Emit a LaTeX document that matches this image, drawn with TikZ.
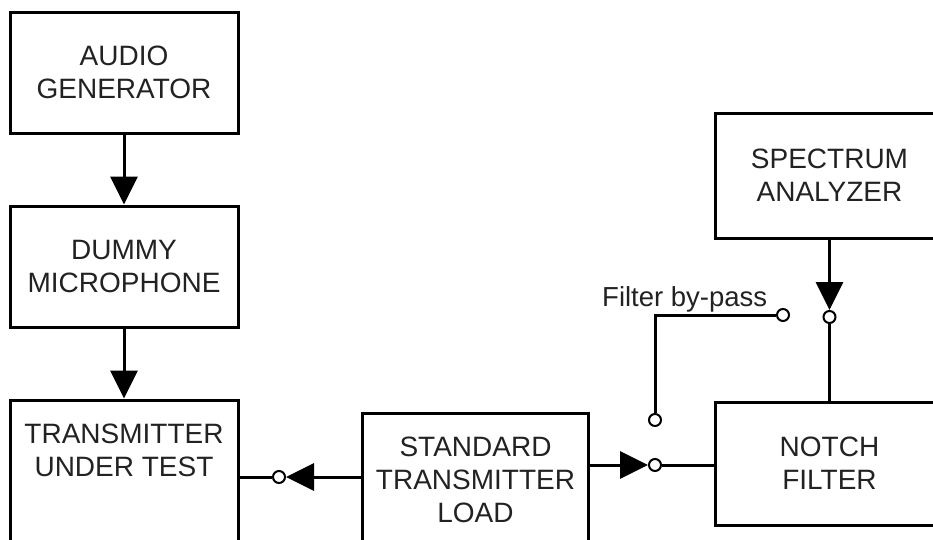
\documentclass[tikz,border=0pt]{standalone}
\usepackage{fontspec}
\setmainfont{Liberation Sans}
\usetikzlibrary{arrows.meta}
\definecolor{txtc}{HTML}{222222}
\begin{document}
\begin{tikzpicture}[x=1pt,y=-1pt,
  blk/.style={draw=black, line width=3pt, minimum width=228pt, minimum height=121pt, inner sep=0pt},
  lbl/.style={text=txtc, align=center, font=\fontsize{28}{33}\selectfont, inner sep=0pt},
  smalllbl/.style={text=txtc, font=\fontsize{27.5}{33}\selectfont, inner sep=0pt},
  wire/.style={line width=3pt},
  arr/.style={line width=3pt, -{Triangle[length=28pt,width=27pt]}},
  term/.style={circle, draw=black, line width=2pt, fill=white, minimum size=12pt, inner sep=0pt}]
\useasboundingbox (0,0) rectangle (933,539);
\clip (0,0) rectangle (933,539);
% boxes
\node[blk, lbl] (ag) at (124,72.5) {AUDIO\\GENERATOR};
\node[blk, lbl] (dm) at (124,266.5) {DUMMY\\MICROPHONE};
\node[blk, minimum height=160pt] (tx) at (124,480) {};
\node[lbl] (txt) at (124,450) {TRANSMITTER\\UNDER TEST};
\node[blk, lbl, minimum width=226pt, minimum height=134pt] (load) at (475.5,480) {STANDARD\\TRANSMITTER\\LOAD};
\node[blk, lbl, minimum height=123pt] (nf) at (829.5,463.5) {NOTCH\\FILTER};
\node[blk, lbl, minimum height=125pt] (sa) at (829.5,175.5) {SPECTRUM\\ANALYZER};
% terminals
\node[term] (c1) at (279,477) {};
\node[term] (c2) at (655,465) {};
\node[term] (c3) at (655,420) {};
\node[term] (c4) at (783,315) {};
\node[term] (c5) at (829.5,317) {};
% label
\node[smalllbl, anchor=base west] (bp) at (602,306) {Filter by-pass};
% connectors
\draw[arr] (ag.south) -- (dm.north);
\draw[arr] (dm.south) -- (tx.north);
\draw[arr] (c1 -| load.west) -- (c1);
\draw[wire] (c1) -- (c1 -| tx.east);
\draw[arr] (c2 -| load.east) -- (c2);
\draw[wire] (c2) -- (c2 -| nf.west);
\draw[wire] (c3) |- (c4);
\draw[arr] (sa.south) -- (c5);
\draw[wire] (c5) -- (nf.north);
\end{tikzpicture}
\end{document}
